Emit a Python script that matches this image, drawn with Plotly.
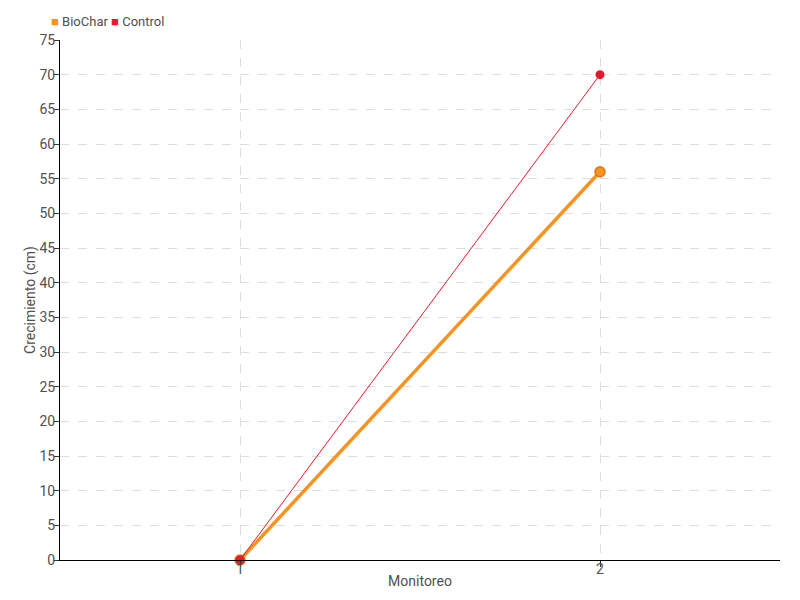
import plotly.graph_objects as go

categories = ["1", "2"]
biochar = [0, 56]
control = [0, 70]
series_names = ["BioChar", "Control"]

font_family = "Roboto, sans-serif"
orange = "#f7931e"
red = "#e8192c"
text_color = "#505050"

fig = go.Figure()
fig.add_trace(go.Scatter(x=categories, y=biochar, mode="lines+markers", name=series_names[0],
                         line=dict(color=orange, width=3.5),
                         marker=dict(color=orange, size=10, line=dict(color="#d9771a", width=1.5)),
                         cliponaxis=False, showlegend=False))
fig.add_trace(go.Scatter(x=categories, y=control, mode="lines+markers", name=series_names[1],
                         line=dict(color=red, width=1),
                         marker=dict(color=red, size=9),
                         cliponaxis=False, showlegend=False))

legend_text = (f"<span style='color:{orange}'>■</span> {series_names[0]} "
               f"<span style='color:{red}'>■</span> {series_names[1]}")
fig.add_annotation(text=legend_text, xref="paper", yref="paper", x=-0.015, y=1.035,
                   xanchor="left", yanchor="middle", showarrow=False,
                   font=dict(size=13, color=text_color, family=font_family))

fig.update_layout(
    width=792, height=592,
    margin=dict(l=52, r=20, t=32, b=40, autoexpand=False),
    plot_bgcolor="white", paper_bgcolor="white",
    font=dict(family=font_family, size=14, color=text_color),
    showlegend=False,
    xaxis=dict(type="category", range=[-0.5, 1.5], showline=True, linecolor="black", linewidth=1,
               ticks="outside", ticklen=6, tickcolor="#333", automargin=False,
               ticklabelstandoff=-10,
               showgrid=True, gridcolor="#dddddd", griddash="dash",
               title=dict(text="Monitoreo", standoff=0, font=dict(size=14)),
               zeroline=False),
    yaxis=dict(range=[0, 75], dtick=5, showline=True, linecolor="black", linewidth=1,
               ticks="outside", ticklen=5, tickcolor="#333", automargin=False,
               ticklabelstandoff=-4,
               showgrid=True, gridcolor="#dddddd", griddash="dash",
               title=dict(text="Crecimiento (cm)", standoff=0, font=dict(size=14)),
               zeroline=False),
)

fig.write_html("out.html")
